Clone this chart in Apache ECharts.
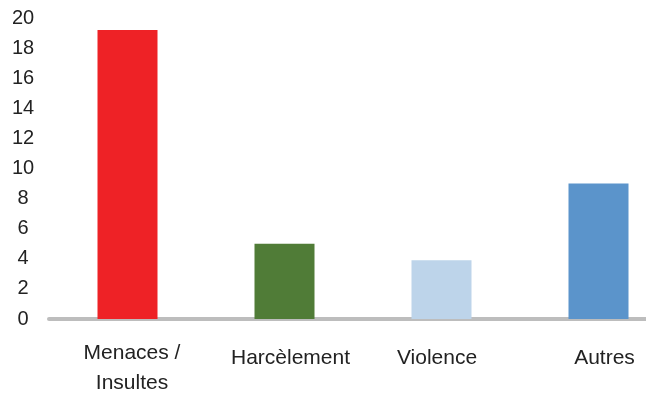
<!DOCTYPE html>
<html><head><meta charset="utf-8">
<script src="https://cdn.jsdelivr.net/npm/echarts@6/dist/echarts.min.js"></script>
<style>html,body{margin:0;padding:0;background:#fff}#c{width:646px;height:394px}</style>
</head><body><div id="c"></div>
<script>
const categories = ['Menaces /\nInsultes', 'Harcèlement', 'Violence', 'Autres'];
const values = [19.2, 5, 3.9, 9];
const colors = ['#EE2226', '#507C37', '#BDD4EA', '#5B94CB'];
const yTicks = [0, 2, 4, 6, 8, 10, 12, 14, 16, 18, 20];

const chart = echarts.init(document.getElementById('c'), null, {renderer: 'canvas'});
chart.setOption({
  animation: false,
  backgroundColor: '#ffffff',
  grid: {left: 49, top: 18, right: -31, bottom: 75, containLabel: false, outerBoundsMode: 'none'},
  xAxis: {
    type: 'category',
    data: categories,
    axisLine: {lineStyle: {color: '#BDBDBD', width: 4}},
    axisTick: {show: false},
    axisLabel: {
      margin: 19,
      interval: 0,
      color: '#222',
      fontFamily: 'Liberation Sans, Arial, sans-serif',
      fontSize: 21,
      lineHeight: 30,
      formatter: function (v, i) {
        if (i === 0) return v.split('\n').map(s => '{m|' + s + '}').join('\n');
        if (i === 1) return '{h|' + v + '}';
        if (i === 2) return '{v|' + v + '}';
        return '{a|' + v + '}';
      },
      rich: {
        m: {fontSize: 21, lineHeight: 30, color: '#222', padding: [0, 0, 0, 9]},
        h: {fontSize: 21, lineHeight: 30, color: '#222', padding: [10, 0, 0, 12]},
        v: {fontSize: 21, lineHeight: 30, color: '#222', padding: [10, 9, 0, 0]},
        a: {fontSize: 21, lineHeight: 30, color: '#222', padding: [10, 0, 0, 12]}
      }
    }
  },
  yAxis: {
    type: 'value',
    min: 0, max: 20, interval: 2,
    splitLine: {show: false},
    axisLine: {show: false},
    axisTick: {show: false},
    axisLabel: {
      align: 'center',
      margin: 26,
      color: '#222',
      fontFamily: 'Liberation Sans, Arial, sans-serif',
      fontSize: 20,
      formatter: function (v) { return yTicks.includes(v) ? String(v) : ''; }
    }
  },
  series: [{
    type: 'bar',
    barWidth: 60,
    data: values.map((v, i) => ({value: v, itemStyle: {color: colors[i]}})),
    z: 1
  }]
});
</script>
</body></html>
